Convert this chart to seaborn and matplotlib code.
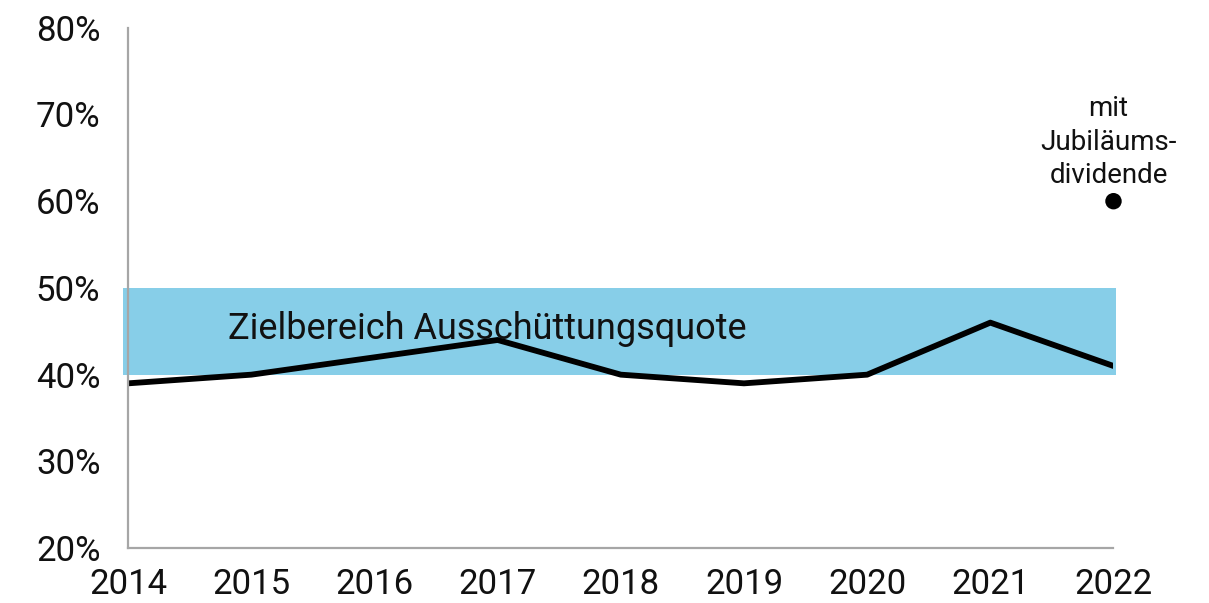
import numpy as np
import pandas as pd
import matplotlib
matplotlib.use("Agg")
import matplotlib.pyplot as plt
import seaborn as sns

sns.set_style("white")
plt.rcParams['font.family'] = ['Roboto', 'DejaVu Sans']

years = [2014, 2015, 2016, 2017, 2018, 2019, 2020, 2021, 2022]
payout = [39, 40, 42, 44, 40, 39, 40, 46, 41]
special_year = [2022]
special_value = [60]
target_low = 40
target_high = 50
yticks = [20, 30, 40, 50, 60, 70, 80]

df = pd.DataFrame({'year': years, 'quote': payout})
df_special = pd.DataFrame({'year': special_year, 'quote': special_value})

fig = plt.figure(figsize=(12.09, 6.03), dpi=100)
ax = fig.add_axes([0.106, 0.091, 0.815, 0.863])

# target band, a little wider than the line
band = ax.fill_between([years[0] - 0.04, years[-1] + 0.02], target_low, target_high,
                       color='#87cee8', linewidth=0, zorder=1)
band.set_clip_on(False)
ax.text(years[0] + 0.81, 45.3, 'Zielbereich Ausschüttungsquote', fontsize=26,
        ha='left', va='center', color='#111111', zorder=3)

sns.lineplot(data=df, x='year', y='quote', color='black', linewidth=4.2, ax=ax, zorder=2)
sns.scatterplot(data=df_special, x='year', y='quote', color='black', s=140, ax=ax,
                edgecolor='none', zorder=4)
for coll in ax.collections:
    coll.set_clip_on(False)
ax.text(special_year[0] - 0.04, special_value[0] + 1.4, 'mit\nJubiläums-\ndividende',
        fontsize=20, ha='center', va='bottom', linespacing=1.3, color='#111111')

ax.set_xlim(years[0], years[-1])
ax.set_ylim(20, 80)
ax.set_xticks(years)
ax.set_xticklabels([str(y) for y in years])
ax.set_yticks(yticks)
ax.set_yticklabels(['{}%'.format(v) for v in yticks])
ax.tick_params(axis='both', length=0, labelsize=25, labelcolor='#111111')
ax.tick_params(axis='y', pad=20)
ax.tick_params(axis='x', pad=14)
ax.set_xlabel('')
ax.set_ylabel('')

for side in ['top', 'right']:
    ax.spines[side].set_visible(False)
for side in ['left', 'bottom']:
    ax.spines[side].set_color('#a6a6a6')
    ax.spines[side].set_linewidth(1.6)
    ax.spines[side].set_zorder(5)

fig.savefig('out.png', dpi=100)
